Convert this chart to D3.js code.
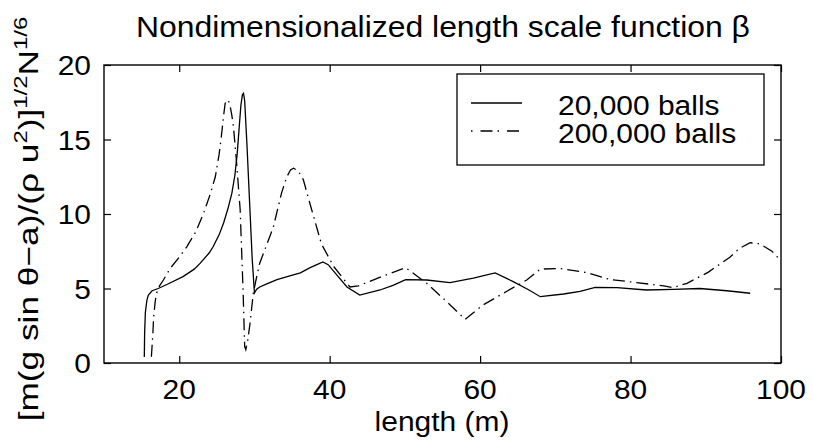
<!DOCTYPE html>
<html>
<head>
<meta charset="utf-8">
<script src="https://cdn.jsdelivr.net/npm/d3@7"></script>
<style>
  body { margin: 0; background: #fff; }
  text { font-family: "Liberation Sans", Arial, sans-serif; fill: #000; }
</style>
</head>
<body>
<div id="chart"></div>
<script>
// series: [length (m), beta]
const balls20k = [
  [15.36, 0.4], [15.4, 2.0], [15.5, 3.4], [15.7, 4.2], [15.9, 4.56], [16.4, 4.85],
  [17.2, 5.0], [18.5, 5.3], [20.5, 5.8], [22.0, 6.3], [22.8, 6.7], [24.0, 7.4],
  [24.5, 7.8], [25.3, 8.6], [25.9, 9.4], [26.5, 10.4], [27.0, 11.4], [27.4, 12.6],
  [27.7, 14.0], [28.0, 16.0], [28.2, 17.3], [28.4, 18.0], [28.55, 18.1], [28.7, 17.6],
  [29.0, 14.7], [29.4, 10.3], [29.7, 7.0], [30.0, 4.7], [30.3, 4.95], [30.7, 5.1],
  [31.8, 5.35], [33.0, 5.6], [34.7, 5.85], [36.1, 6.05], [37.4, 6.4], [38.3, 6.6],
  [39.1, 6.78], [39.8, 6.6], [40.8, 6.0], [42.3, 5.1], [44.0, 4.56], [46.7, 4.9],
  [48.5, 5.23], [50.1, 5.6], [52.9, 5.57], [56.0, 5.4], [59.1, 5.7], [62.0, 6.05],
  [64.4, 5.46], [66.5, 4.9], [68.0, 4.45], [71.1, 4.63], [73.3, 4.8], [75.3, 5.08],
  [78.2, 5.06], [82.1, 4.9], [85.7, 4.94], [89.2, 5.0], [92.8, 4.85], [95.9, 4.68]
];

const balls200k = [
  [16.3, 0.42], [16.5, 2.0], [16.6, 3.1], [16.8, 4.1], [17.0, 4.7], [17.4, 5.2],
  [17.9, 5.57], [18.8, 6.35], [20.0, 7.1], [21.0, 7.8], [22.2, 8.8], [23.2, 10.0],
  [24.1, 11.3], [24.8, 12.5], [25.3, 14.0], [25.6, 15.2], [25.9, 16.6], [26.1, 17.4],
  [26.3, 17.65], [26.55, 17.6], [26.75, 17.3], [27.0, 16.6], [27.2, 15.9], [27.6, 13.6],
  [28.1, 10.3], [28.5, 4.7], [28.7, 1.1], [28.85, 0.9], [29.1, 1.5], [29.4, 2.6],
  [29.85, 4.7], [30.3, 5.8], [30.7, 6.7], [31.6, 7.9], [32.5, 9.1], [33.6, 11.4],
  [34.3, 12.5], [34.8, 12.95], [35.2, 13.07], [35.8, 12.9], [36.5, 12.3], [37.6, 10.3],
  [38.9, 8.0], [40.5, 6.5], [42.7, 5.1], [43.8, 5.17], [47.1, 5.84], [50.1, 6.4],
  [52.9, 5.35], [55.6, 4.1], [58.0, 2.93], [60.4, 3.9], [63.5, 4.8], [66.2, 5.57],
  [68.0, 6.3], [70.6, 6.35], [74.2, 6.06], [77.3, 5.6], [80.8, 5.4], [84.4, 5.17],
  [85.7, 5.06], [87.5, 5.35], [90.3, 6.08], [93.2, 7.1], [94.5, 7.7], [95.9, 8.07],
  [97.2, 8.0], [98.8, 7.5], [100, 6.85]
];

const xTicks = [20, 40, 60, 80, 100];
const yTicks = [0, 5, 10, 15, 20];
const seriesNames = ["20,000 balls", "200,000 balls"];

const W = 813, H = 448;
const box = { left: 104, right: 781, top: 65, bottom: 363 };
const fs = 28, sx = 1.07; // glyphs in the picture run wide

const x = d3.scaleLinear().domain([10, 100]).range([box.left, box.right]);
const y = d3.scaleLinear().domain([0, 20]).range([box.bottom, box.top]);

const svg = d3.select("#chart").append("svg")
  .attr("width", W).attr("height", H);

function label(str, px, py, anchor, size, scale) {
  return svg.append("g")
    .attr("transform", `translate(${px},${py}) scale(${scale || sx},1)`)
    .append("text")
    .attr("text-anchor", anchor)
    .style("font-size", (size || fs) + "px")
    .text(str);
}

// axes, ticks pointing inward
const tick = 7;
svg.append("g").attr("transform", `translate(0,${box.bottom})`)
  .call(d3.axisBottom(x).tickValues(xTicks).tickSizeInner(-tick).tickSizeOuter(0).tickFormat(""));
svg.append("g").attr("transform", `translate(0,${box.top})`)
  .call(d3.axisTop(x).tickValues(xTicks).tickSizeInner(-tick).tickSizeOuter(0).tickFormat(""));
svg.append("g").attr("transform", `translate(${box.left},0)`)
  .call(d3.axisLeft(y).tickValues(yTicks).tickSizeInner(-tick).tickSizeOuter(0).tickFormat(""));
svg.append("g").attr("transform", `translate(${box.right},0)`)
  .call(d3.axisRight(y).tickValues(yTicks).tickSizeInner(-tick).tickSizeOuter(0).tickFormat(""));
svg.selectAll(".domain").remove();
svg.selectAll(".tick line").attr("stroke", "#000").attr("stroke-width", 1.2);

svg.append("rect")
  .attr("x", box.left).attr("y", box.top)
  .attr("width", box.right - box.left).attr("height", box.bottom - box.top)
  .attr("fill", "none").attr("stroke", "#000").attr("stroke-width", 1.4);

xTicks.forEach(t => label(t, x(t), 399, "middle"));
yTicks.forEach(t => label(t, 91, y(t) + 10, "end"));

// lines
const line = d3.line().x(d => x(d[0])).y(d => y(d[1]));
svg.append("path").datum(balls20k)
  .attr("d", line).attr("fill", "none").attr("stroke", "#000").attr("stroke-width", 1.3);
svg.append("path").datum(balls200k)
  .attr("d", line).attr("fill", "none").attr("stroke", "#000").attr("stroke-width", 1.3)
  .attr("stroke-dasharray", "12,5,1.5,5");

// legend
svg.append("rect")
  .attr("x", 457).attr("y", 74).attr("width", 307).attr("height", 91)
  .attr("fill", "#fff").attr("stroke", "#000").attr("stroke-width", 1.3);
svg.append("line").attr("x1", 471).attr("x2", 522).attr("y1", 103).attr("y2", 103)
  .attr("stroke", "#000").attr("stroke-width", 1.3);
svg.append("line").attr("x1", 471).attr("x2", 522).attr("y1", 131).attr("y2", 131)
  .attr("stroke", "#000").attr("stroke-width", 1.3).attr("stroke-dasharray", "1.5,8,12,5");
label(seriesNames[0], 558, 115, "start");
label(seriesNames[1], 558, 143, "start");

// titles
label("Nondimensionalized length scale function \u03b2", 443, 37, "middle", 29, 1.1);
label("length (m)", 442, 431, "middle");

const yl = svg.append("text")
  .attr("transform", `translate(38,219) rotate(-90) scale(1.26,1)`)
  .attr("text-anchor", "middle")
  .style("font-size", fs + "px");
yl.append("tspan").text("[m(g sin \u03b8\u2212a)/(\u03c1 u");
yl.append("tspan").attr("dy", -11).style("font-size", "19px").text("2");
yl.append("tspan").attr("dy", 11).text(")]");
yl.append("tspan").attr("dy", -11).style("font-size", "19px").text("1/2");
yl.append("tspan").attr("dy", 11).text("N");
yl.append("tspan").attr("dy", -11).style("font-size", "19px").text("1/6");
</script>
</body>
</html>
